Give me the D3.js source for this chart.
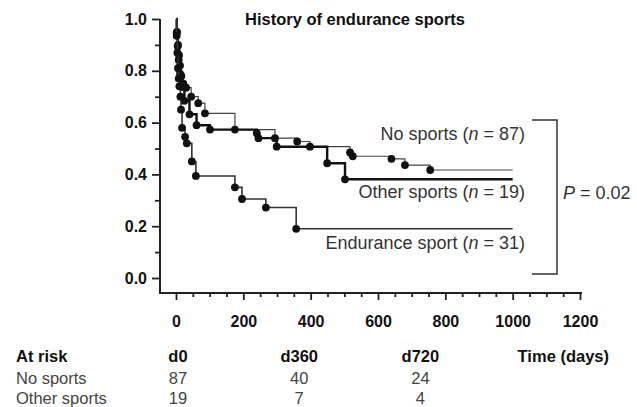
<!DOCTYPE html>
<html>
<script src='https://d3js.org/d3.v7.min.js'></script>
<style>
 body {margin:0; background:#fff;}
 text {font-family: Arial, 'Liberation Sans', sans-serif; fill:#222;}
 .b {font-weight:bold; fill:#111;}
</style>
<body onload='init()'>
<svg width=637 height=407></svg>
<script>

// Kaplan-Meier steps (days, survival)
var noSportsT = [0,3,6,9,12,16,22,30,45,66,86,175,294,360,398,517,525,640,680,755];
var noSportsS = [1,0.95,0.90,0.86,0.82,0.78,0.75,0.735,0.70,0.675,0.636,0.573,0.54,0.527,0.507,0.485,0.47,0.46,0.436,0.417];
var otherT = [0,2,5,8,12,18,25,40,61,101,240,245,299,449,502];
var otherS = [1,0.947,0.895,0.842,0.789,0.737,0.684,0.632,0.59,0.573,0.559,0.54,0.507,0.443,0.381];
var enduranceT = [0,2,4,6,8,10,13,15,18,27,32,47,59,175,196,267,357];
var enduranceS = [1,0.935,0.87,0.81,0.77,0.74,0.70,0.65,0.58,0.545,0.52,0.45,0.394,0.35,0.305,0.272,0.19];
var endTime = 1000;

var groupNames = ['No sports', 'Other sports', 'Endurance sport'];
var groupN = [87, 19, 31];

var riskDays = [0, 360, 720];
var riskHeads = ['d0', 'd360', 'd720'];
var riskNo = [87, 40, 24];
var riskOther = [19, 7, 4];

var yTicks = [0, 0.2, 0.4, 0.6, 0.8, 1.0];
var xTicks = [0, 200, 400, 600, 800, 1000, 1200];

function init() {
 var svg = d3.select('svg');
 var x = d3.scaleLinear().domain([0,1200]).range([176,580]);
 var y = d3.scaleLinear().domain([0,1]).range([278,19]);

 // axes
 svg.append('g').attr('transform','translate(160,0)')
   .call(d3.axisLeft(y).tickValues(yTicks).tickSize(8).tickSizeOuter(0).tickPadding(5).tickFormat(d3.format('.1f')));
 svg.append('g').attr('transform','translate(160,0)')
   .call(d3.axisLeft(y).tickValues(d3.range(0.1,1,0.2)).tickSize(5).tickFormat(''));
 svg.append('g').attr('transform','translate(0,293)')
   .call(d3.axisBottom(x).tickValues(xTicks).tickSize(7).tickSizeOuter(0).tickPadding(16).tickFormat(d3.format('d')));
 svg.append('g').attr('transform','translate(0,293)')
   .call(d3.axisBottom(x).tickValues(d3.range(50,1200,50).filter(function(d){return d%200;})).tickSize(4).tickFormat(''));
 svg.selectAll('.domain').remove();
 svg.selectAll('.tick line').attr('stroke','#222').attr('stroke-width',1.8);
 svg.selectAll('.tick text').attr('class','b').style('font-size','16px').style('font-family','Arial, Liberation Sans, sans-serif');
 svg.append('line').attr('x1',160).attr('x2',160).attr('y1',y(1)).attr('y2',293).attr('stroke','#222').attr('stroke-width',2);
 svg.append('line').attr('x1',159).attr('x2',582).attr('y1',293).attr('y2',293).attr('stroke','#222').attr('stroke-width',2);

 // title
 svg.append('text').attr('class','b').attr('x',355).attr('y',25).attr('text-anchor','middle')
   .style('font-size','16.5px').text('History of endurance sports');

 // curves
 var series = [
  {t:noSportsT, s:noSportsS, w:1.2, c:'#444'},
  {t:otherT, s:otherS, w:2.4, c:'#111'},
  {t:enduranceT, s:enduranceS, w:1.6, c:'#333'}
 ];
 var line = d3.line().x(function(d){return x(d[0]);}).y(function(d){return y(d[1]);}).curve(d3.curveStepAfter);
 series.forEach(function(g) {
  var pts = g.t.map(function(t,i){return [t, g.s[i]];});
  var full = pts.concat([[endTime, pts[pts.length-1][1]]]);
  svg.append('path').attr('d', line(full)).attr('fill','none').attr('stroke',g.c).attr('stroke-width',g.w);
  svg.append('g').selectAll('circle').data(pts.slice(1)).enter().append('circle')
   .attr('cx',function(d){return x(d[0]);}).attr('cy',function(d){return y(d[1]);})
   .attr('r',3.9).attr('fill','#111');
 });

 // labels
 var labY = [140, 198, 249];
 groupNames.forEach(function(nm,i){
  var t = svg.append('text').attr('x',525).attr('y',labY[i]).attr('text-anchor','end').style('font-size','18px').style('fill','#333');
  t.append('tspan').text(nm + ' (');
  t.append('tspan').style('font-style','italic').text('n');
  t.append('tspan').text(' = ' + groupN[i] + ')');
 });

 // bracket and P value
 svg.append('path').attr('d','M532,120H557V274H532').attr('fill','none').attr('stroke','#333').attr('stroke-width',1.5);
 var p = svg.append('text').attr('x',563).attr('y',199).style('font-size','18px').style('fill','#333');
 p.append('tspan').style('font-style','italic').text('P');
 p.append('tspan').text(' = 0.02');

 // at risk table
 var fs = '16.5px';
 svg.append('text').attr('class','b').attr('x',16).attr('y',362).style('font-size',fs).text('At risk');
 riskDays.forEach(function(d,i){
  svg.append('text').attr('class','b').attr('x',x(d)+2).attr('y',362).attr('text-anchor','middle').style('font-size',fs).text(riskHeads[i]);
  svg.append('text').attr('x',x(d)+2).attr('y',384).attr('text-anchor','middle').style('font-size',fs).style('fill','#444').text(riskNo[i]);
  svg.append('text').attr('x',x(d)+2).attr('y',404).attr('text-anchor','middle').style('font-size',fs).style('fill','#444').text(riskOther[i]);
 });
 svg.append('text').attr('class','b').attr('x',609).attr('y',362).attr('text-anchor','end').style('font-size',fs).text('Time (days)');
 svg.append('text').attr('x',16).attr('y',384).style('font-size',fs).style('fill','#444').text('No sports');
 svg.append('text').attr('x',16).attr('y',404).style('font-size',fs).style('fill','#444').text('Other sports');
}

</script>
</body>
</html>
